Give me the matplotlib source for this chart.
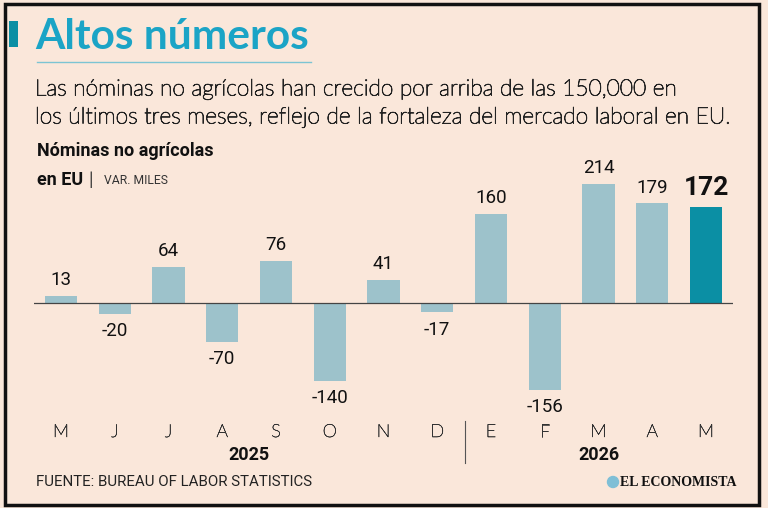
import matplotlib.pyplot as plt
import matplotlib.patheffects as pe
from matplotlib.patches import Rectangle, Ellipse
from matplotlib.lines import Line2D

months = ["M", "J", "J", "A", "S", "O", "N", "D", "E", "F", "M", "A", "M"]
values = [13, -20, 64, -70, 76, -140, 41, -17, 160, -156, 214, 179, 172]
years = ["2025", "2026"]

W, H = 768, 508
BG = "#fae7da"
LIGHT = "#9dc2cb"
DARK = "#0b8fa4"
TEAL = "#1ba4c6"


def fx(x):
    return x / W


def fy(y):
    return 1 - y / H


# thin fonts come out too pale, thicken them a bit
thick = [pe.withStroke(linewidth=0.6, foreground="#222222")]

fig = plt.figure(figsize=(W / 100, H / 100), dpi=100, facecolor=BG)

# frame
fig.patches.append(Rectangle((fx(5), fy(505)), fx(754), 501 / H, transform=fig.transFigure,
                             fill=False, edgecolor="#111111", linewidth=2.5))

# title block
fig.patches.append(Rectangle((fx(9), fy(47)), fx(9), 26 / H, transform=fig.transFigure,
                             color=DARK, linewidth=0))
fig.text(fx(35), fy(37), "Altos números", fontsize=30.5, fontweight="bold", color=TEAL,
         family="Lato", va="center", ha="left")
fig.lines.append(Line2D([fx(37), fx(311)], [fy(62), fy(62)], transform=fig.transFigure,
                        color="#7cc4d3", linewidth=1))

sub = ["Las nóminas no agrícolas han crecido por arriba de las 150,000 en",
       "los últimos tres meses, reflejo de la fortaleza del mercado laboral en EU."]
for k, line in enumerate(sub):
    fig.text(fx(35), fy(89 + 28 * k), line, fontsize=16.4, color="#222222", family="Lato",
             fontweight="light", va="center", ha="left", path_effects=thick)

fig.text(fx(37), fy(151), "Nóminas no agrícolas", fontsize=13, fontweight="bold",
         color="#111111", family="Roboto", va="center", ha="left")
fig.text(fx(37), fy(180), "en EU", fontsize=13, fontweight="bold",
         color="#111111", family="Roboto", va="center", ha="left")
fig.text(fx(88), fy(180), "|", fontsize=13, color="#333333", family="Lato",
         va="center", ha="left")
fig.text(fx(104), fy(180), "VAR. MILES", fontsize=8.7, color="#333333", family="Roboto",
         va="center", ha="left")

# chart axes: x -0.5..12.5 -> 34..733 px ; y -200..250 -> baseline at 303, 0.556 px/unit
scale = 0.556
ytop, ybot = 250, -200
top_px = 303 - ytop * scale
bot_px = 303 - ybot * scale
ax = fig.add_axes([fx(34), fy(bot_px), fx(733 - 34), (bot_px - top_px) / H])
ax.set_facecolor("none")
ax.set_xlim(-0.5, len(values) - 0.5)
ax.set_ylim(ybot, ytop)
colors = [LIGHT] * (len(values) - 1) + [DARK]
x = list(range(len(values)))
ax.bar(x, values, width=0.6, color=colors, zorder=2)
ax.axhline(0, color="#444444", linewidth=0.9, zorder=3)
for i, v in enumerate(values):
    last = i == len(values) - 1
    off = 5 if v >= 0 else -6
    ax.annotate(f"{v}", (i, v), xytext=(0, off), textcoords="offset points",
                ha="center", va="bottom" if v >= 0 else "top",
                fontsize=19 if last else 13.5, fontweight="bold" if last else "normal",
                family="Roboto", color="#111111")
for s in ax.spines.values():
    s.set_visible(False)
ax.set_xticks([])
ax.set_yticks([])

# month labels
for i, m in enumerate(months):
    fig.text(fx(61 + i * 53.75), fy(432), m, fontsize=13, color="#333333", family="Lato",
             fontweight="light", ha="center", va="center",
             path_effects=[pe.withStroke(linewidth=0.4, foreground="#333333")])
fig.text(fx(249), fy(455), years[0], fontsize=13, fontweight="bold", color="#111111",
         family="Roboto", ha="center", va="center")
fig.text(fx(599), fy(455), years[1], fontsize=13, fontweight="bold", color="#111111",
         family="Roboto", ha="center", va="center")
fig.lines.append(Line2D([fx(465), fx(465)], [fy(421), fy(463)], transform=fig.transFigure,
                        color="#555555", linewidth=0.8))

# footer
fig.text(fx(36), fy(482), "FUENTE: BUREAU OF LABOR STATISTICS", fontsize=10.8, color="#222222",
         family="Roboto", ha="left", va="center")
fig.patches.append(Ellipse((fx(613), fy(482)), 11 / W, 11 / H, transform=fig.transFigure,
                           color="#7fbfd6"))
fig.text(fx(737), fy(482), "EL ECONOMISTA", fontsize=10, fontweight="bold", color="#111111",
         family="Liberation Serif", ha="right", va="center")

fig.savefig("out.png", dpi=100, facecolor=BG)
